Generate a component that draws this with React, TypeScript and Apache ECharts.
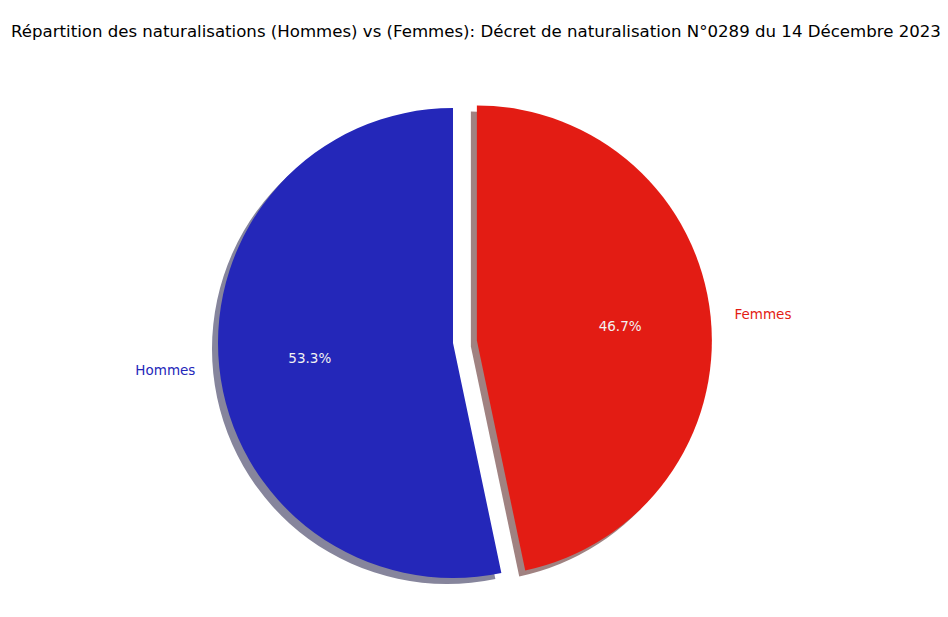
import React, { useEffect, useRef } from 'react';
import * as echarts from 'echarts';

const categories = ['Hommes', 'Femmes'];
const shares = [53.3, 46.7];
const colors = ['#2427b9', '#e31c14'];
const shadowColors = ['#86859c', '#a08281'];
const exploded = [false, true];

const TITLE =
  'Répartition des naturalisations (Hommes) vs (Femmes): Décret de naturalisation N°0289 du 14 Décembre 2023';

const FONT = 'DejaVu Sans';
const CX = 453;
const CY = 343;
const R = 235;
const EXPLODE = 24;

const App: React.FC = () => {
  const chartRef = useRef<HTMLDivElement | null>(null);

  useEffect(() => {
    document.body.style.margin = '0';
    if (!chartRef.current) return;
    const chart = echarts.init(chartRef.current, undefined, { renderer: 'svg' });

    const base = {
      type: 'pie',
      startAngle: 90,
      clockwise: false,
      selectedMode: 'multiple',
      selectedOffset: EXPLODE,
      silent: true,
      avoidLabelOverlap: false,
      percentPrecision: 1,
      emphasis: { disabled: true },
      select: { itemStyle: { borderWidth: 0 } },
    };

    const option = {
      animation: false,
      backgroundColor: '#ffffff',
      title: {
        text: TITLE,
        left: 11,
        top: 23,
        padding: 0,
        textStyle: { fontFamily: FONT, fontSize: 16.6, fontWeight: 'normal', color: '#000' },
      },
      series: [
        {
          ...base,
          name: 'shadow',
          z: 1,
          center: [CX - 6, CY + 6],
          radius: [0, R],
          label: { show: false },
          labelLine: { show: false },
          data: categories.map((name, i) => ({
            name,
            value: shares[i],
            selected: exploded[i],
            itemStyle: { color: shadowColors[i], borderWidth: 0 },
          })),
        },
        {
          ...base,
          name: 'main',
          z: 2,
          center: [CX, CY],
          radius: [0, R],
          label: {
            show: true,
            position: 'outside',
            formatter: '{b}',
            fontFamily: FONT,
            fontSize: 13.5,
            distanceToLabelLine: 0,
          },
          labelLine: { show: false, length: 24, length2: 0 },
          data: categories.map((name, i) => ({
            name,
            value: shares[i],
            selected: exploded[i],
            itemStyle: { color: colors[i], borderWidth: 0 },
            label: { color: colors[i] },
          })),
        },
        {
          ...base,
          name: 'pct',
          z: 3,
          center: [CX, CY],
          radius: [R * 0.2, R],
          label: {
            show: true,
            position: 'inside',
            formatter: '{d}%',
            fontFamily: FONT,
            fontSize: 13.5,
            color: '#f2f2f2',
          },
          labelLine: { show: false },
          data: categories.map((name, i) => ({
            name,
            value: shares[i],
            selected: exploded[i],
            itemStyle: { color: 'rgba(0,0,0,0)', borderWidth: 0 },
          })),
        },
      ],
    };

    chart.setOption(option as any);
    return () => {
      chart.dispose();
    };
  }, []);

  return <div ref={chartRef} style={{ width: '948px', height: '617px' }} />;
};

export default App;
